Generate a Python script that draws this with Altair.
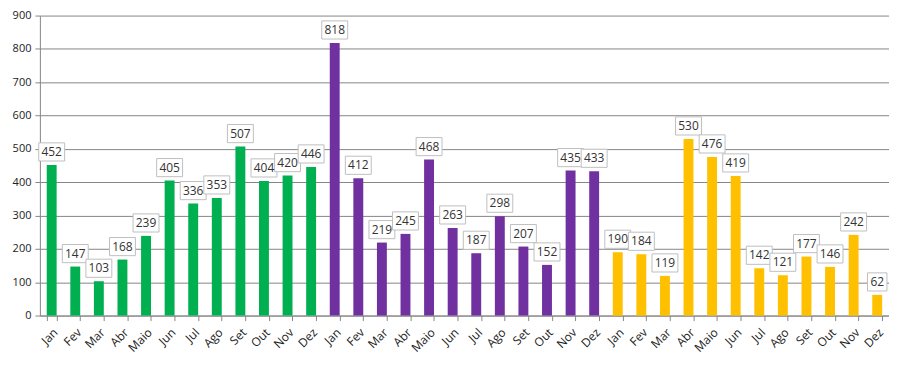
import altair as alt
import pandas as pd

months = ["Jan", "Fev", "Mar", "Abr", "Maio", "Jun", "Jul", "Ago", "Set", "Out", "Nov", "Dez"]
years = ["Ano 1", "Ano 2", "Ano 3"]
values_y1 = [452, 147, 103, 168, 239, 405, 336, 353, 507, 404, 420, 446]
values_y2 = [818, 412, 219, 245, 468, 263, 187, 298, 207, 152, 435, 433]
values_y3 = [190, 184, 119, 530, 476, 419, 142, 121, 177, 146, 242, 62]
colors = ["#00B050", "#7030A0", "#FFC000"]
y_ticks = [0, 100, 200, 300, 400, 500, 600, 700, 800, 900]

rows = []
for yi, vals in enumerate([values_y1, values_y2, values_y3]):
    for mi, v in enumerate(vals):
        rows.append({"key": f"{yi}{mi:02d}|{months[mi]}", "year": years[yi], "value": v})
df = pd.DataFrame(rows)
order = list(df["key"])

x = alt.X("key:N", sort=order, title=None,
          scale=alt.Scale(paddingInner=0.58, paddingOuter=0.29),
          axis=alt.Axis(labelExpr="split(datum.value, '|')[1]", labelAngle=-45,
                        labelFont="Open Sans", labelFontSize=12, labelColor="#222",
                        domainColor="#868686", tickColor="#868686", tickBand="extent",
                        tickSize=5, labelPadding=6, grid=False, labelAlign="right",
                        labelBaseline="top"))
y = alt.Y("value:Q", title=None,
          scale=alt.Scale(domain=[0, 900], nice=False),
          axis=alt.Axis(values=y_ticks, labelFont="Open Sans", labelOverlap=False,
                        labelFontSize=11, labelColor="#222", domainColor="#868686",
                        tickColor="#868686", tickSize=5, gridColor="#868686",
                        gridWidth=1, labelPadding=4))

base = alt.Chart(df)

bars = base.mark_bar().encode(
    x=x, y=y,
    color=alt.Color("year:N", scale=alt.Scale(domain=years, range=colors), legend=None),
)

path3 = "M-1,-0.7L1,-0.7L1,0.7L-1,0.7Z"
path2 = "M-0.75,-0.7L0.75,-0.7L0.75,0.7L-0.75,0.7Z"

boxes = base.mark_point(filled=True, fill="white", stroke="#BFBFBF", strokeWidth=1,
                        opacity=1, yOffset=-13).encode(
    x=x, y=y,
    shape=alt.condition(alt.datum.value < 100, alt.value(path2), alt.value(path3)),
    size=alt.value(676),
)

labels = base.mark_text(font="Open Sans", fontSize=12, color="#333", yOffset=-13,
                        baseline="middle").encode(
    x=x, y=y,
    text="value:Q",
)

chart = alt.layer(bars, boxes, labels).properties(
    width=852, height=301,
    autosize=alt.AutoSizeParams(type="none"),
    padding={"left": 32, "top": 7, "right": 0, "bottom": 45},
).configure_view(stroke=None)

chart.save("out.html", embed_options={"renderer": "svg", "actions": False})
